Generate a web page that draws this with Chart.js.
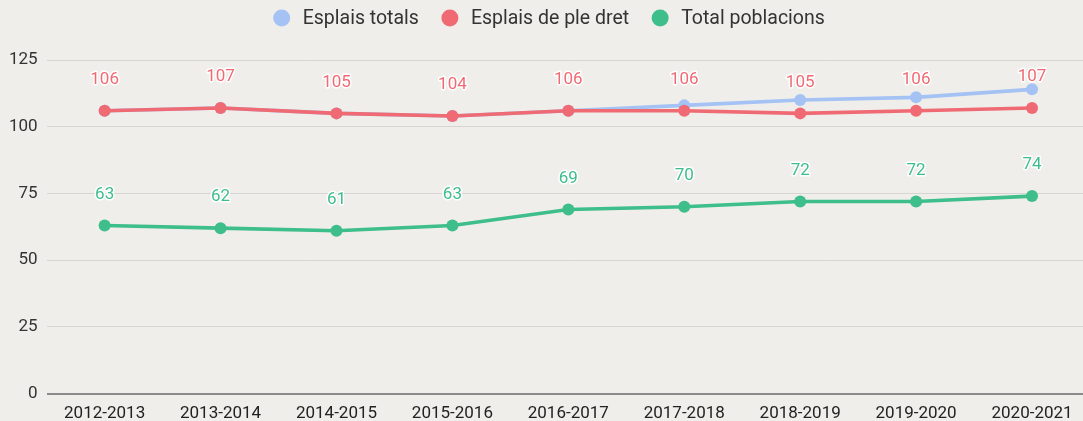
<!DOCTYPE html>
<html>
<head>
<meta charset="utf-8">
<script src="https://cdn.jsdelivr.net/npm/chart.js@4/dist/chart.umd.min.js"></script>
<style>
html,body{margin:0;padding:0;background:#EFEEEA;overflow:hidden;}
#wrap{width:1096px;height:434px;position:relative;}
</style>
</head>
<body>
<div id="wrap"><canvas id="c"></canvas></div>
<script>
const categories = ["2012-2013","2013-2014","2014-2015","2015-2016","2016-2017","2017-2018","2018-2019","2019-2020","2020-2021"];
const esplaisTotals = [106,107,105,104,106,108,110,111,114];
const esplaisPleDret = [106,107,105,104,106,106,105,106,107];
const totalPoblacions = [63,62,61,63,69,70,72,72,74];
const yTicks = [0,25,50,75,100,125];

const BLUE = '#A4C2F4', RED = '#F06A74', GREEN = '#3DBE8A';

const labelPlugin = {
  id: 'pointLabels',
  afterDatasetsDraw(chart) {
    const ctx = chart.ctx;
    chart.data.datasets.forEach((ds, i) => {
      if (!ds.showLabels) return;
      const meta = chart.getDatasetMeta(i);
      ctx.save();
      ctx.font = '17px Roboto';
      ctx.textAlign = 'center';
      ctx.textBaseline = 'middle';
      ctx.lineJoin = 'round';
      meta.data.forEach((pt, j) => {
        const x = pt.x, y = pt.y - 31;
        const t = String(ds.data[j]);
        ctx.lineWidth = 3;
        ctx.strokeStyle = '#ffffff';
        ctx.strokeText(t, x, y);
        ctx.fillStyle = ds.borderColor;
        ctx.fillText(t, x, y);
      });
      ctx.restore();
    });
  }
};

const legendPlugin = {
  id: 'customLegend',
  afterDraw(chart) {
    const ctx = chart.ctx;
    const r = 8.5, gapText = 21, gapItem = 31, cy = 18, centerX = 557.5;
    ctx.save();
    ctx.font = '19.5px Roboto';
    ctx.textBaseline = 'middle';
    ctx.textAlign = 'left';
    const items = chart.data.datasets.map(ds => ({t: ds.label, c: ds.borderColor, w: ctx.measureText(ds.label).width}));
    let total = 0;
    items.forEach((it, k) => { total += r + gapText + it.w + (k < items.length - 1 ? gapItem : 0); });
    let x = centerX - total / 2 + r;
    items.forEach(it => {
      ctx.fillStyle = it.c;
      ctx.beginPath();
      ctx.arc(x, cy, r, 0, Math.PI * 2);
      ctx.fill();
      ctx.fillStyle = '#333333';
      ctx.fillText(it.t, x + gapText, cy + 1);
      x += gapText + it.w + gapItem;
    });
    ctx.restore();
  }
};

new Chart(document.getElementById('c'), {
  type: 'line',
  data: {
    labels: categories,
    datasets: [
      {label: 'Esplais totals', data: esplaisTotals, borderColor: BLUE, backgroundColor: BLUE, pointBackgroundColor: BLUE, order: 2, showLabels: false},
      {label: 'Esplais de ple dret', data: esplaisPleDret, borderColor: RED, backgroundColor: RED, pointBackgroundColor: RED, order: 1, showLabels: true},
      {label: 'Total poblacions', data: totalPoblacions, borderColor: GREEN, backgroundColor: GREEN, pointBackgroundColor: GREEN, order: 0, showLabels: true}
    ].map(d => Object.assign({borderWidth: 3.6, pointRadius: 6, pointBorderWidth: 0, pointHoverRadius: 6, tension: 0}, d))
  },
  options: {
    responsive: true,
    maintainAspectRatio: false,
    animation: false,
    events: [],
    layout: {padding: {left: 0, right: 0, top: 60, bottom: 0}},
    plugins: {
      tooltip: {enabled: false},
      legend: {display: false}
    },
    scales: {
      x: {
        offset: true,
        grid: {display: false, drawTicks: false},
        border: {display: false},
        ticks: {color: '#222222', font: {family: 'Roboto', size: 17}, padding: 10, maxRotation: 0, autoSkip: false}
      },
      y: {
        min: 0, max: 125,
        afterBuildTicks: (s) => { s.ticks = yTicks.map(v => ({value: v})); },
        grid: {
          color: (c) => c.tick && c.tick.value === 0 ? '#8a8a8a' : '#D6D5D1',
          lineWidth: (c) => c.tick && c.tick.value === 0 ? 2 : 1,
          drawTicks: false
        },
        border: {display: false},
        ticks: {color: '#333333', font: {family: 'Roboto', size: 17}, padding: 9}
      }
    }
  },
  plugins: [labelPlugin, legendPlugin]
});
</script>
</body>
</html>
